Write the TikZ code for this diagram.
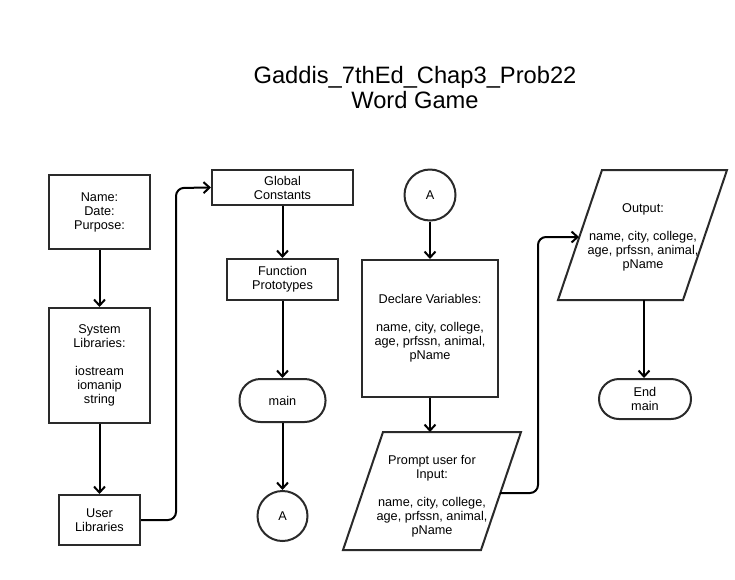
\documentclass[tikz,border=0pt]{standalone}
\usepackage{fontspec}
\setmainfont{Liberation Sans}
\usetikzlibrary{arrows.meta}
\definecolor{edge}{HTML}{2A2A2A}
\tikzset{
  border/.style={draw=edge, line width=2pt},
  box/.style={border, rectangle, align=center, inner sep=0pt, font=\fontsize{12.7}{14}\selectfont},
  term/.style={box, rounded corners=20pt},
  conn/.style={border, circle, inner sep=0pt, minimum size=50pt, font=\fontsize{12.7}{14}\selectfont},
  txt/.style={align=center, inner sep=0pt, font=\fontsize{12.7}{14}\selectfont},
  flow/.style={draw=black, line width=2pt, rounded corners=8pt, -{Straight Barb[length=6pt,width=11pt,line width=2pt]}},
}
\begin{document}
\begin{tikzpicture}[x=1pt,y=-1pt]
\useasboundingbox (0,0) rectangle (735,579);
\fill[white] (0,0) rectangle (735,579);
% title
\node[txt, font=\fontsize{23.7}{25}\selectfont] (title) at (415,88) {Gaddis\_7thEd\_Chap3\_Prob22\\Word Game};
% left column
\node[box, minimum width=101pt, minimum height=74pt] (info) at (99.5,212) {Name:\\Date:\\Purpose:};
\node[box, minimum width=101pt, minimum height=115pt] (sys) at (99.5,365.5) {System\\Libraries:\\[14pt]iostream\\iomanip\\string};
\node[box, minimum width=81pt, minimum height=50pt] (user) at (99.5,520) {User\\Libraries};
% second column
\node[box, minimum width=141pt, minimum height=35pt] (glob) at (282.5,187.5) {Global\\Constants};
\node[box, minimum width=111pt, minimum height=41pt] (func) at (282.5,279.5) {Function\\Prototypes};
\node[term, minimum width=86pt, minimum height=43pt, rounded corners=21pt] (main) at (282.5,400.5) {main};
\node[conn] (A1) at (282.5,516) {A};
% third column
\node[conn, minimum size=51pt] (A2) at (430,195) {A};
\node[box, minimum width=136pt, minimum height=137pt] (decl) at (430,328.5) {Declare Variables:\\[14pt]name, city, college,\\age, prfssn, animal,\\pName};
\draw[border, line join=miter] (383,432) -- (521,432) -- (481,550) -- (343,550) -- cycle;
\node[txt] (prompt) at (432,496) {Prompt user for\\Input:\\[14pt]name, city, college,\\age, prfssn, animal,\\pName};
\coordinate (promptTop) at (430,432);
\coordinate (promptR) at (500,493);
% fourth column
\draw[border, line join=miter] (602,170) -- (727,170) -- (683,300) -- (558,300) -- cycle;
\node[txt] (out) at (643,237) {Output:\\[14pt]name, city, college,\\age, prfssn, animal,\\pName};
\coordinate (outL) at (579,237);
\coordinate (outB) at (644,300);
\node[term, minimum width=92pt, minimum height=40pt] (end) at (645,399) {End\\main};
% connectors
\draw[flow] (info.south) -- (sys.north);
\draw[flow] (sys.south) -- (user.north);
\draw[flow] (user.east) -- (176,520) -- (176,188) -- (glob.west);
\draw[flow] (glob.south) -- (func.north);
\draw[flow] (func.south) -- (main.north);
\draw[flow] (main.south) -- (A1.north);
\draw[flow] (A2.south) -- (decl.north);
\draw[flow] (decl.south) -- (promptTop);
\draw[flow] (promptR) -- (538,493) -- (538,237) -- (outL);
\draw[flow] (outB) -- (end.north -| outB);
\end{tikzpicture}
\end{document}
